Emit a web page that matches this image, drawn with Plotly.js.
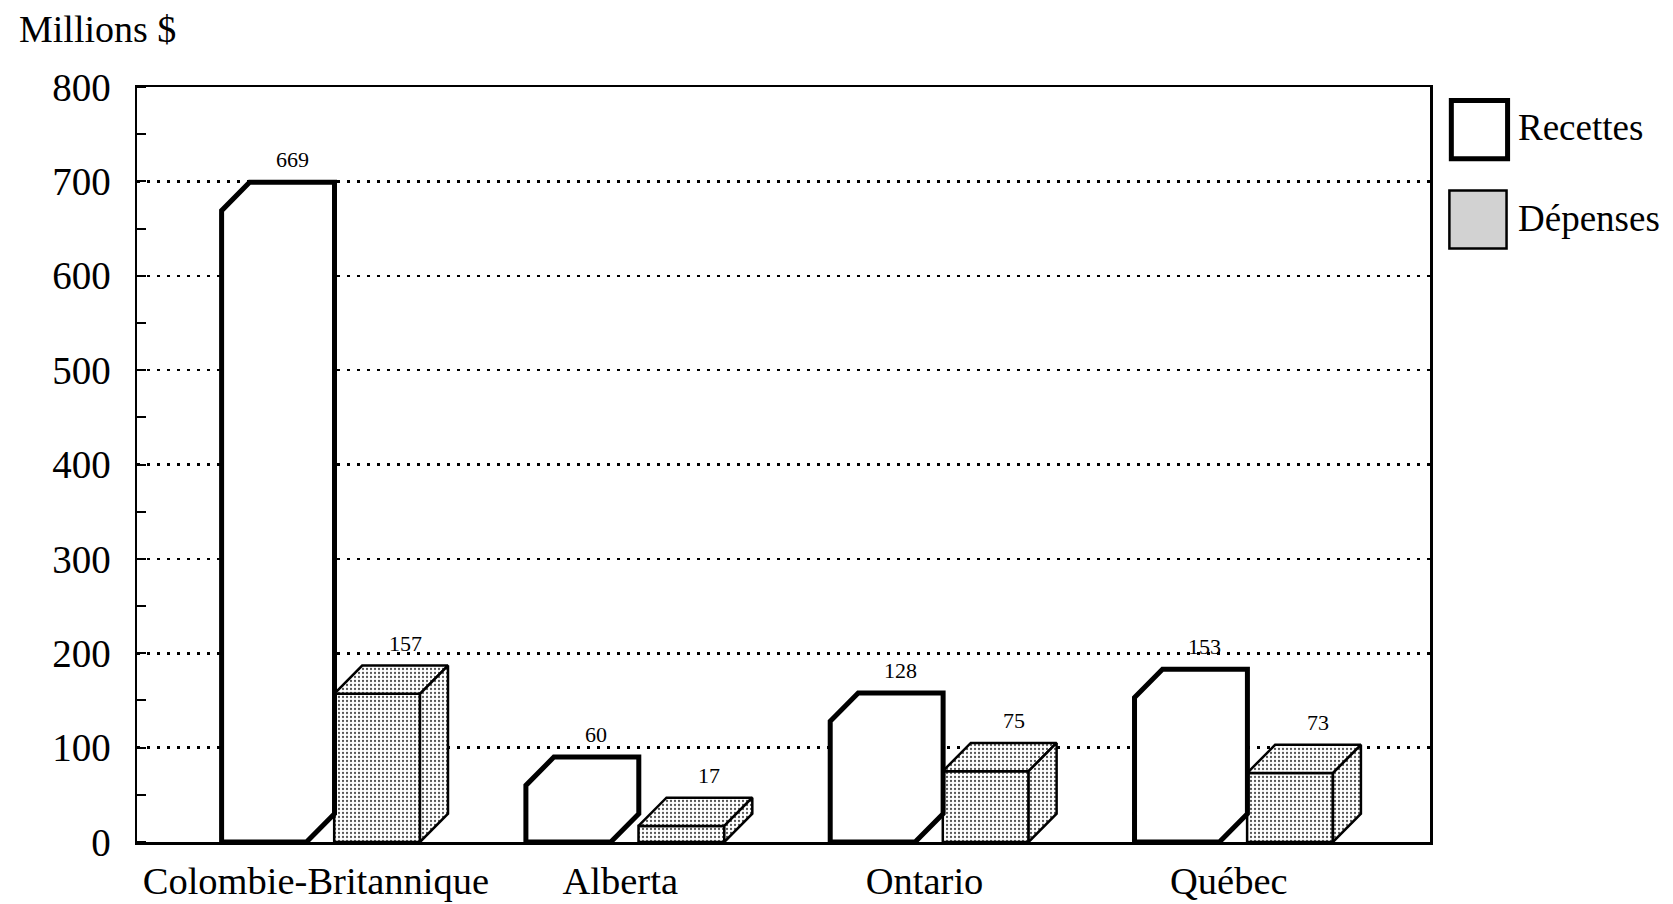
<!DOCTYPE html>
<html>
<head>
<meta charset="utf-8">
<script src="https://cdn.plot.ly/plotly-3.0.1.min.js"></script>
<style>
  html, body { margin: 0; padding: 0; background: #fff; }
  #chart { width: 1673px; height: 904px; }
</style>
</head>
<body>
<div id="chart"></div>
<script>
// ---- data ----
const categories = ['Colombie-Britannique', 'Alberta', 'Ontario', 'Québec'];
const recettes = [669, 60, 128, 153];
const depenses = [157, 17, 75, 73];
const seriesNames = ['Recettes', 'Dépenses'];
const yTickValues = [0, 100, 200, 300, 400, 500, 600, 700, 800];
const yAxisTitle = 'Millions $';

// ---- style constants (pseudo-3D geometry) ----
const FONT = 'Liberation Serif, Times New Roman, serif';
const DX = 0.092;       // depth offset in category units
const DY = 30;          // depth offset in value units
const REC_OFF = -0.310, REC_W = 0.279;
const DEP_OFF = 0.060,  DEP_W = 0.282;
const PATTERN = { shape: '.', fgcolor: '#555', bgcolor: '#ffffff', size: 4, solidity: 0.25 };

const xIdx = categories.map((c, i) => i);

// Recettes silhouettes (hexagons)
const recX = [], recY = [];
recettes.forEach((v, i) => {
  const x0 = i + REC_OFF, x1 = x0 + REC_W;
  recX.push(x0, x0, x0 + DX, x1 + DX, x1 + DX, x1, x0, null);
  recY.push(0, v, v + DY, v + DY, DY, 0, 0, null);
});

// Dépenses top and side faces
const depTopX = [], depTopY = [], depSideX = [], depSideY = [];
depenses.forEach((v, i) => {
  const x0 = i + DEP_OFF, x1 = x0 + DEP_W;
  depTopX.push(x0, x0 + DX, x1 + DX, x1, x0, null);
  depTopY.push(v, v + DY, v + DY, v, v, null);
  depSideX.push(x1, x1 + DX, x1 + DX, x1, x1, null);
  depSideY.push(0, DY, v + DY, v, 0, null);
});

const traces = [
  { type: 'bar', name: seriesNames[0], x: xIdx, y: recettes, width: REC_W, offset: REC_OFF,
    marker: { color: '#ffffff', line: { width: 0 } }, showlegend: false, hoverinfo: 'y' },
  { type: 'bar', name: seriesNames[1], x: xIdx, y: depenses, width: DEP_W, offset: DEP_OFF,
    marker: { color: '#ffffff', pattern: PATTERN, line: { color: '#000', width: 2.5 } },
    showlegend: false, hoverinfo: 'y' },
  { type: 'scatter', mode: 'lines', x: depTopX, y: depTopY, fill: 'toself', fillcolor: '#ffffff',
    fillpattern: PATTERN, line: { color: '#000', width: 2.5 }, showlegend: false, hoverinfo: 'skip' },
  { type: 'scatter', mode: 'lines', x: depSideX, y: depSideY, fill: 'toself', fillcolor: '#ffffff',
    fillpattern: PATTERN, line: { color: '#000', width: 2.5 }, showlegend: false, hoverinfo: 'skip' },
  { type: 'scatter', mode: 'lines', x: recX, y: recY, fill: 'toself', fillcolor: '#ffffff',
    line: { color: '#000', width: 5, join: 'miter' }, showlegend: false, hoverinfo: 'skip' }
];

// value labels centred over the back-top face
const annotations = [];
recettes.forEach((v, i) => {
  annotations.push({ x: i + REC_OFF + REC_W / 2 + DX, y: v + DY, xref: 'x', yref: 'y',
    text: String(v), showarrow: false, yanchor: 'bottom', yshift: 8,
    font: { family: FONT, size: 22, color: '#000' } });
});
depenses.forEach((v, i) => {
  annotations.push({ x: i + DEP_OFF + DEP_W / 2 + DX, y: v + DY, xref: 'x', yref: 'y',
    text: String(v), showarrow: false, yanchor: 'bottom', yshift: 8,
    font: { family: FONT, size: 22, color: '#000' } });
});
// axis unit title
annotations.push({ x: -0.093, y: 1.046, xref: 'paper', yref: 'paper', text: yAxisTitle,
  showarrow: false, xanchor: 'left', yanchor: 'bottom', font: { family: FONT, size: 38, color: '#000' } });
// custom legend text
annotations.push({ x: 1.0665, y: 0.946, xref: 'paper', yref: 'paper', text: seriesNames[0],
  showarrow: false, xanchor: 'left', yanchor: 'middle', font: { family: FONT, size: 37, color: '#000' } });
annotations.push({ x: 1.0665, y: 0.826, xref: 'paper', yref: 'paper', text: seriesNames[1],
  showarrow: false, xanchor: 'left', yanchor: 'middle', font: { family: FONT, size: 37, color: '#000' } });

const shapes = [
  { type: 'rect', xref: 'paper', yref: 'paper', x0: 1.0165, x1: 1.0600, y0: 0.905, y1: 0.982,
    fillcolor: '#ffffff', line: { color: '#000', width: 5 } },
  { type: 'rect', xref: 'paper', yref: 'paper', x0: 1.0150, x1: 1.0592, y0: 0.786, y1: 0.863,
    fillcolor: '#d2d2d2', line: { color: '#000', width: 2.5 } }
];

const layout = {
  width: 1673, height: 904,
  margin: { l: 137, r: 243, t: 87, b: 62 },
  paper_bgcolor: '#ffffff', plot_bgcolor: '#ffffff',
  font: { family: FONT, color: '#000' },
  showlegend: false,
  barmode: 'overlay',
  xaxis: {
    range: [-0.588, 3.661], tickmode: 'array', tickvals: xIdx, ticktext: categories,
    showgrid: false, zeroline: false, ticks: '', showline: true, mirror: true,
    linecolor: '#000', linewidth: 2.5, tickfont: { family: FONT, size: 38.5, color: '#000' },
    ticklabelstandoff: 3, fixedrange: true
  },
  yaxis: {
    range: [0, 800], tickmode: 'array', tickvals: yTickValues,
    showgrid: true, gridcolor: '#000', gridwidth: 2.5, griddash: '2.5px,7.5px',
    zeroline: false, ticks: '', showline: true, mirror: true,
    linecolor: '#000', linewidth: 2.5, tickfont: { family: FONT, size: 39, color: '#000' },
    ticklabelstandoff: 16,
    minor: { dtick: 50, tick0: 0, ticks: 'inside', ticklen: 9, tickwidth: 2, tickcolor: '#000', showgrid: false },
    fixedrange: true
  },
  annotations: annotations,
  shapes: shapes
};

Plotly.newPlot('chart', traces, layout, { displayModeBar: false, staticPlot: true });
</script>
</body>
</html>
